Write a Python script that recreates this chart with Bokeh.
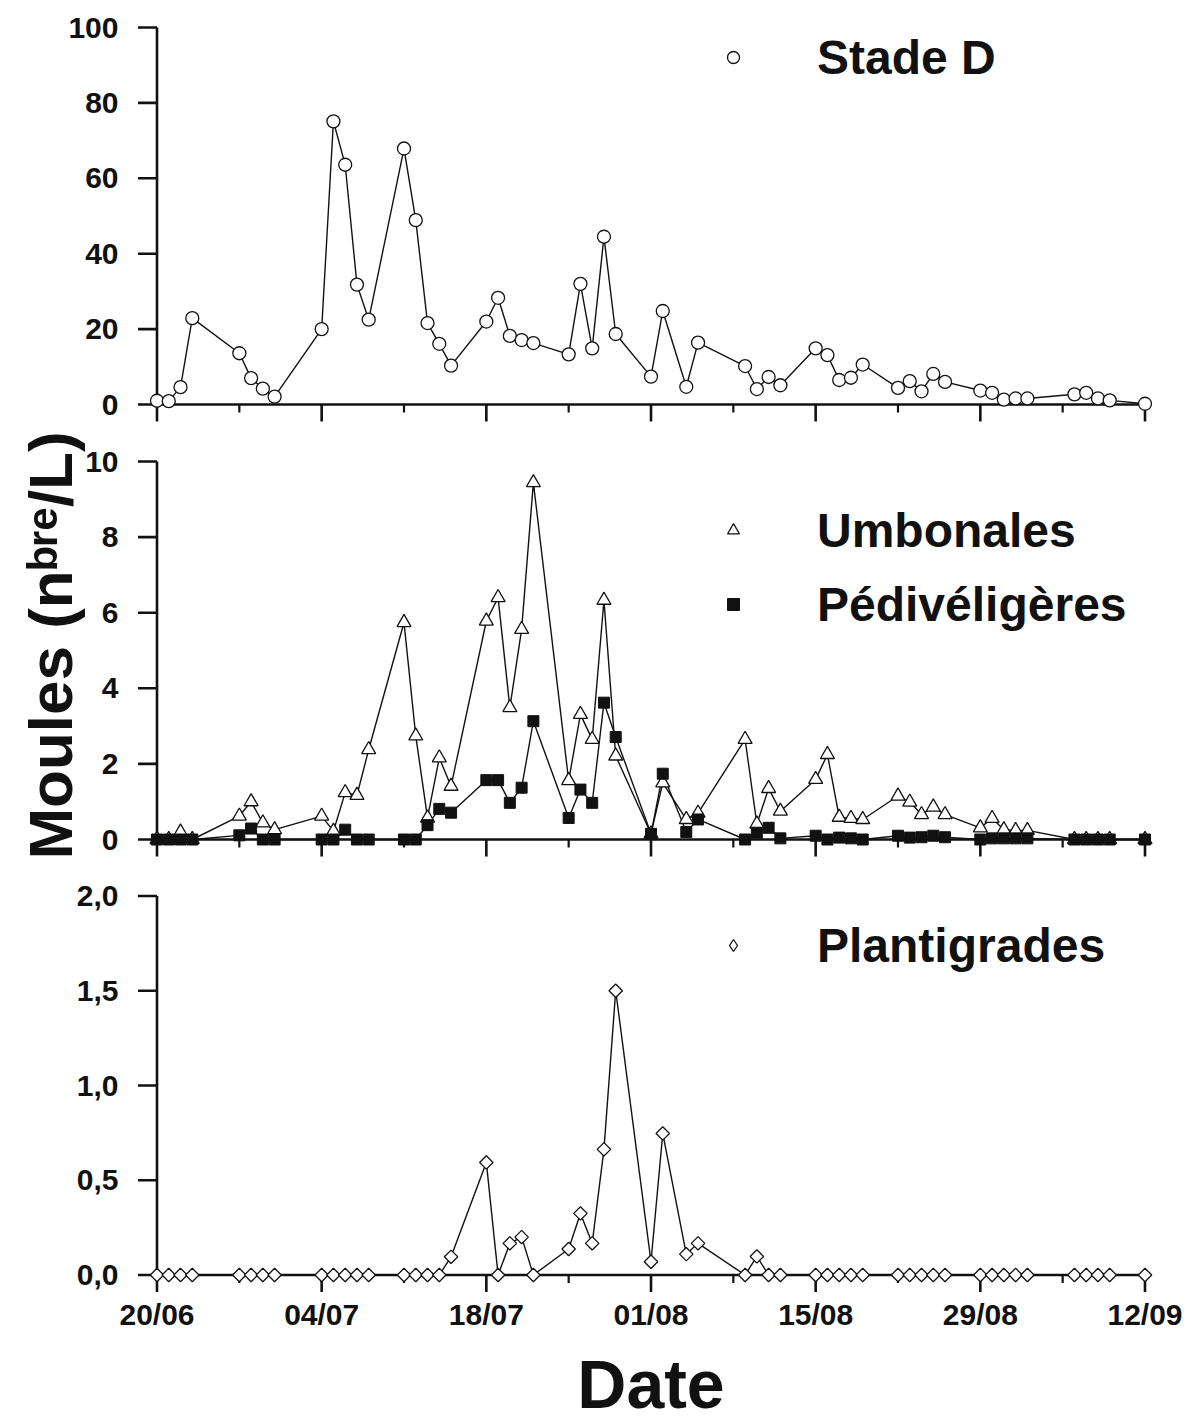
import math
import datetime as dt
from bokeh.plotting import figure
from bokeh.layouts import column
from bokeh.models import (Range1d, FixedTicker, CustomJSTickFormatter, Legend, LegendItem,
                          ColumnDataSource)
from bokeh.embed import file_html
from bokeh.resources import INLINE

# ---------------- data ----------------
sample_dates = ["20/06", "21/06", "22/06", "23/06", "27/06", "28/06", "29/06", "30/06",
                "04/07", "05/07", "06/07", "07/07", "08/07", "11/07", "12/07", "13/07", "14/07", "15/07",
                "18/07", "19/07", "20/07", "21/07", "22/07", "25/07", "26/07", "27/07", "28/07", "29/07",
                "01/08", "02/08", "04/08", "05/08", "09/08", "10/08", "11/08", "12/08",
                "15/08", "16/08", "17/08", "18/08", "19/08", "22/08", "23/08", "24/08", "25/08", "26/08",
                "29/08", "30/08", "31/08", "01/09", "02/09", "06/09", "07/09", "08/09", "09/09", "12/09"]

stade_d = [1.0, 0.9, 4.6, 22.9, 13.6, 7.0, 4.2, 2.1,
           20.0, 75.1, 63.6, 31.8, 22.5, 67.9, 48.9, 21.6, 16.1, 10.3,
           22.0, 28.3, 18.2, 17.1, 16.3, 13.3, 32.0, 14.9, 44.5, 18.7,
           7.4, 24.8, 4.7, 16.4, 10.2, 4.1, 7.3, 5.1,
           14.9, 13.1, 6.5, 7.1, 10.6, 4.4, 6.2, 3.5, 8.1, 6.0,
           3.7, 3.1, 1.3, 1.6, 1.6, 2.7, 3.1, 1.6, 1.1, 0.2]

umbonales = [0.0, 0.0, 0.2, 0.0, 0.62, 1.0, 0.44, 0.26,
             0.62, 0.22, 1.24, 1.17, 2.38, 5.74, 2.74, 0.57, 2.16, 1.41,
             5.78, 6.4, 3.49, 5.56, 9.44, 1.56, 3.31, 2.65, 6.33, 2.21,
             0.15, 1.5, 0.53, 0.7, 2.65, 0.41, 1.35, 0.75,
             1.59, 2.25, 0.59, 0.56, 0.53, 1.15, 0.99, 0.66, 0.86, 0.66,
             0.31, 0.56, 0.26, 0.24, 0.24, 0.0, 0.0, 0.0, 0.0, 0.0]

pediveligeres = [0.0, 0.0, 0.0, 0.0, 0.11, 0.29, 0.0, 0.0,
                 0.0, 0.0, 0.26, 0.0, 0.0, 0.0, 0.0, 0.38, 0.81, 0.71,
                 1.57, 1.57, 0.97, 1.37, 3.13, 0.57, 1.32, 0.97, 3.62, 2.71,
                 0.15, 1.74, 0.2, 0.53, 0.0, 0.18, 0.31, 0.03,
                 0.1, 0.0, 0.05, 0.03, 0.0, 0.1, 0.05, 0.06, 0.1, 0.06,
                 0.0, 0.03, 0.03, 0.03, 0.03, 0.0, 0.0, 0.0, 0.0, 0.0]

plantigrades = [0.0, 0.0, 0.0, 0.0, 0.0, 0.0, 0.0, 0.0,
                0.0, 0.0, 0.0, 0.0, 0.0, 0.0, 0.0, 0.0, 0.0, 0.096,
                0.594, 0.0, 0.167, 0.2, 0.0, 0.137, 0.325, 0.167, 0.663, 1.50,
                0.07, 0.747, 0.11, 0.167, 0.0, 0.098, 0.0, 0.0,
                0.0, 0.0, 0.0, 0.0, 0.0, 0.0, 0.0, 0.0, 0.0, 0.0,
                0.0, 0.0, 0.0, 0.0, 0.0, 0.0, 0.0, 0.0, 0.0, 0.0]

tick_dates = ["20/06", "04/07", "18/07", "01/08", "15/08", "29/08", "12/09"]
minor_tick_dates = ["27/06", "11/07", "25/07", "08/08", "22/08", "05/09"]
yticks_1 = [0, 20, 40, 60, 80, 100]
yticks_2 = [0, 2, 4, 6, 8, 10]
yticks_3 = [0, 0.5, 1.0, 1.5, 2.0]

YEAR = 1997


def to_date(s):
    return dt.datetime.strptime(s + "/%d" % YEAR, "%d/%m/%Y")


origin = to_date(sample_dates[0])


def day(s):
    return (to_date(s) - origin).days


days = [day(s) for s in sample_dates]
major_days = [day(s) for s in tick_dates]
minor_days = [day(s) for s in minor_tick_dates]

# ---------------- layout constants ----------------
FONT = "Liberation Sans"
INK = "#111111"
FRAME_L = 136
FRAME_R = 1165
BORDER_R = 20
X0_PIX = 156.5            # pixel x of first date
PPD = 988.0 / 84.0        # px per day
X_START = -(X0_PIX - FRAME_L) / PPD
X_END = (FRAME_R - X0_PIX) / PPD
AX_W = 2.6

src = ColumnDataSource(dict(day=days, sd=stade_d, um=umbonales, pe=pediveligeres, pl=plantigrades))


def base_fig(y_start, y_end, frame_h, b_top, b_bottom, with_xaxis, yticks):
    p = figure(width=FRAME_R + BORDER_R, frame_width=FRAME_R - FRAME_L, frame_height=frame_h,
               x_range=Range1d(X_START, X_END), y_range=Range1d(y_start, y_end),
               x_axis_location="below" if with_xaxis else None,
               output_backend="svg", toolbar_location=None,
               min_border_left=FRAME_L, min_border_right=BORDER_R,
               min_border_top=b_top, min_border_bottom=b_bottom)
    p.grid.visible = False
    p.outline_line_color = None
    p.background_fill_color = "white"
    p.border_fill_color = "white"
    # axis lines and tick marks drawn through the plot's own scales
    p.segment(x0=[major_days[0]], y0=[0], x1=[major_days[0]], y1=[yticks[-1]],
              line_color=INK, line_width=AX_W)
    p.segment(x0=[major_days[0]], y0=[0], x1=[major_days[-1]], y1=[0],
              line_color=INK, line_width=AX_W)
    p.ray(x=[major_days[0]] * len(yticks), y=yticks, length=19, angle=math.pi,
          length_units="screen", line_color=INK, line_width=AX_W)
    p.ray(x=major_days, y=[0] * len(major_days), length=17, angle=-math.pi / 2,
          length_units="screen", line_color=INK, line_width=AX_W)
    p.ray(x=minor_days, y=[0] * len(minor_days), length=8, angle=-math.pi / 2,
          length_units="screen", line_color=INK, line_width=2.2)
    # real y axis for the tick labels
    ya = p.yaxis[0]
    ya.ticker = FixedTicker(ticks=yticks, minor_ticks=[])
    ya.axis_line_color = None
    ya.major_tick_line_color = None
    ya.minor_tick_line_color = None
    ya.major_tick_out = 0
    ya.major_tick_in = 0
    ya.major_label_standoff = 18
    ya.major_label_text_font = FONT
    ya.major_label_text_font_style = "bold"
    ya.major_label_text_font_size = "30px"
    ya.major_label_text_color = INK
    return p


LEG_KW = dict(label_text_font=FONT, label_text_font_style="bold", label_text_font_size="48px",
              label_text_color=INK, glyph_width=30, glyph_height=60, label_height=60,
              label_standoff=69, padding=0, margin=0, spacing=14,
              border_line_color=None, background_fill_alpha=0)
LEG_X = 718 - FRAME_L

# ---------------- panel 1 : Stade D ----------------
PPU1 = 377.0 / 100.0
F1_TOP, F1_BOT = 20, 422
p1 = base_fig(-(F1_BOT - 404) / PPU1, 100 + (27 - F1_TOP) / PPU1, F1_BOT - F1_TOP, F1_TOP, 0, False, yticks_1)
p1.line("day", "sd", source=src, line_color=INK, line_width=1.4)
r_sd = p1.scatter("day", "sd", source=src, marker="circle", size=13, fill_color="white",
                  line_color=INK, line_width=1.3)
p1.add_layout(Legend(items=[LegendItem(label="Stade D", renderers=[r_sd])],
                     location=(LEG_X, F1_BOT - 87), **LEG_KW))

# ---------------- panel 2 : Umbonales / Pédivéligères ----------------
PPU2 = 37.8
F2_TOP, F2_BOT = 433, 857
p2 = base_fig(-(F2_BOT - 839) / PPU2, 10 + (461 - F2_TOP) / PPU2, F2_BOT - F2_TOP,
              F2_TOP - F1_BOT, 15, False, yticks_2)
p2.line("day", "um", source=src, line_color=INK, line_width=1.4)
p2.line("day", "pe", source=src, line_color=INK, line_width=1.4)
r_um = p2.scatter("day", "um", source=src, marker="triangle", size=14, fill_color="white",
                  line_color=INK, line_width=1.3)
r_pe = p2.scatter("day", "pe", source=src, marker="square", size=11, fill_color=INK,
                  line_color=INK, line_width=1)
p2.add_layout(Legend(items=[LegendItem(label="Umbonales", renderers=[r_um]),
                            LegendItem(label="Pédivéligères", renderers=[r_pe])],
                     location=(LEG_X, F2_BOT - 634), **LEG_KW))
ya2 = p2.yaxis[0]
ya2.axis_label = "Moules (n\u1d47\u02b3\u1d49/L)"
ya2.axis_label_text_font = FONT
ya2.axis_label_text_font_style = "bold"
ya2.axis_label_text_font_size = "62px"
ya2.axis_label_text_color = INK
ya2.axis_label_standoff = -3

# ---------------- panel 3 : Plantigrades ----------------
PPU3 = 189.5
F3_TOP, F3_BOT = 880, 1292
p3 = base_fig(-(F3_BOT - 1274.5) / PPU3, 2 + (895.5 - F3_TOP) / PPU3, F3_BOT - F3_TOP,
              F3_TOP - (F2_BOT + 15), 4, True, yticks_3)
p3.yaxis[0].formatter = CustomJSTickFormatter(code="return tick.toFixed(1).replace('.', ',')")
xa = p3.xaxis[0]
xa.ticker = FixedTicker(ticks=major_days, minor_ticks=[])
xa.axis_line_color = None
xa.major_tick_line_color = None
xa.minor_tick_line_color = None
xa.major_tick_out = 0
xa.major_tick_in = 0
xa.major_label_standoff = 5
xa.major_label_text_font = FONT
xa.major_label_text_font_style = "bold"
xa.major_label_text_font_size = "30px"
xa.major_label_text_color = INK
xa.major_label_overrides = {d: s for d, s in zip(major_days, tick_dates)}
xa.axis_label = "Date"
xa.axis_label_text_font = FONT
xa.axis_label_text_font_style = "bold"
xa.axis_label_text_font_size = "68px"
xa.axis_label_text_color = INK
xa.axis_label_standoff = 12

p3.line("day", "pl", source=src, line_color=INK, line_width=1.4)
p3.scatter("day", "pl", source=src, marker="square", angle=math.pi / 4, size=9.5,
           fill_color="white", line_color=INK, line_width=1.3)
# legend key only (no data point): diamond symbol in the series style
leg_src = ColumnDataSource(dict(day=[float("nan")], pl=[float("nan")]))
r_pl_leg = p3.scatter("day", "pl", source=leg_src, marker="diamond", size=14,
                      fill_color="white", line_color=INK, line_width=1.3)
p3.add_layout(Legend(items=[LegendItem(label="Plantigrades", renderers=[r_pl_leg])],
                     location=(LEG_X, F3_BOT - 975), **LEG_KW))

layout = column(p1, p2, p3, spacing=0)
open("out.html", "w").write(file_html(layout, INLINE))
